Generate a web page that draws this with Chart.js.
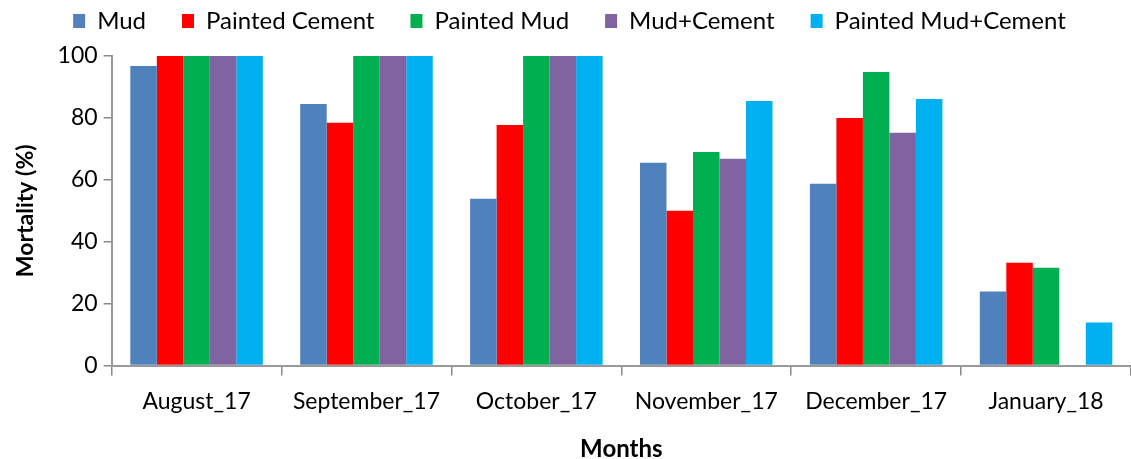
<!DOCTYPE html>
<html><head><meta charset="utf-8">
<script src="https://cdn.jsdelivr.net/npm/chart.js@4.4.0/dist/chart.umd.min.js"></script>
<style>html,body{margin:0;padding:0;background:#fff}#wrap{width:1131px;height:459px}</style>
</head><body><div id="wrap"><canvas id="c" width="1131" height="459"></canvas></div>
<script>
const categories = ["August_17","September_17","October_17","November_17","December_17","January_18"];
const mud = [96.8, 84.5, 53.9, 65.5, 58.7, 23.9];
const paintedCement = [100, 78.4, 77.7, 50, 80, 33.2];
const paintedMud = [100, 100, 100, 69, 94.8, 31.6];
const mudCement = [100, 100, 100, 66.8, 75.2, 0];
const paintedMudCement = [100, 100, 100, 85.5, 86.1, 13.9];
const seriesNames = ["Mud","Painted Cement","Painted Mud","Mud+Cement","Painted Mud+Cement"];
const colors = ["#4f81bd","#ff0000","#00b050","#8064a2","#00b0f0"];
const yTicks = [0,20,40,60,80,100];
const FONT = "Lato";
const series = [mud, paintedCement, paintedMud, mudCement, paintedMudCement];
const LEGEND_PAD = 36;
const legendFix = {
  id: 'legendFix',
  beforeLayout(chart) {
    const lg = chart.legend;
    if (lg && !lg._patched) {
      const f = lg.fit;
      lg.fit = function() { f.call(this); this.height = 83; };
      lg._patched = true;
    }
  }
};
new Chart(document.getElementById('c'), {
  type: 'bar',
  data: {
    labels: categories,
    datasets: series.map((d,i)=>({label: seriesNames[i], data: d, backgroundColor: colors[i], borderWidth:0,
      categoryPercentage: 0.78, barPercentage: 1.0}))
  },
  plugins: [legendFix],
  options: {
    responsive: false, animation: false,
    layout: {padding: {left: 8, right: 0, top: -27, bottom: -5}},
    plugins: {
      tooltip: {enabled:false},
      legend: {position:'top', labels: {boxWidth: 12, boxHeight: 14, padding: LEGEND_PAD, color:'#000',
        font: {family: FONT, size: 24}}}
    },
    scales: {
      x: {
        grid: {offset: true, drawOnChartArea: false, tickLength: 10, color:'#888', lineWidth:1.5},
        border: {color:'#999', width:2},
        ticks: {color:'#000', font:{family:FONT, size:23}, padding: 12, maxRotation:0},
        title: {display:true, text:'Months', color:'#000', font:{family:FONT, size:24, weight:'bold'}, padding:{top:8, bottom:0}}
      },
      y: {
        min: 0, max: 100,
        afterBuildTicks: ax => { ax.ticks = yTicks.map(v=>({value:v})); },
        grid: {drawOnChartArea: false, tickLength: 8, color:'#888', lineWidth:1.5},
        border: {color:'#999', width:2},
        ticks: {color:'#000', font:{family:FONT, size:23}, padding: 6},
        title: {display:true, text:'Mortality (%)', color:'#000', font:{family:FONT, size:23, weight:'bold'}, padding:{bottom:12}}
      }
    }
  }
});
</script></body></html>
